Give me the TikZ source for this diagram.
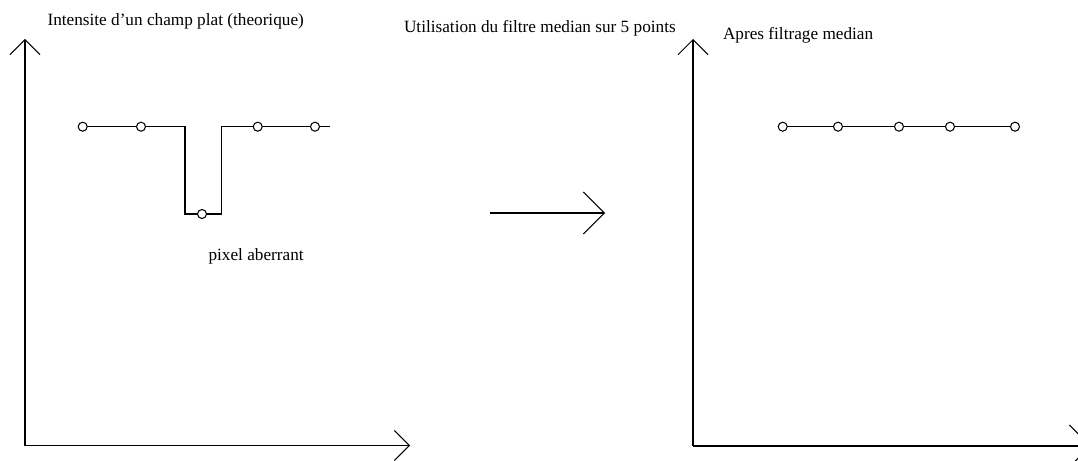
\documentclass[tikz,border=0pt]{standalone}
\usepackage{fontspec}
\setmainfont{Liberation Serif}
\usetikzlibrary{arrows.meta}

\begin{document}
\begin{tikzpicture}[line width=0.6pt,
        pt/.style={circle,draw,fill=white,inner sep=0pt,minimum size=0.18cm},
        axe/.style={-{Straight Barb[length=3mm,width=6mm]}},
        bigaxe/.style={-{Straight Barb[length=4.2mm,width=8.4mm]}},
        lbl/.style={anchor=base west,inner sep=0pt,font=\fontsize{9.8}{12}\selectfont}]
        \useasboundingbox (0,0) rectangle (21.56,9.2);

        % Left plot: flat field with one bad pixel.
        \coordinate (o1) at (0.5,0.29);
        \coordinate (y1) at (0.5,8.42);
        \coordinate (x1) at (8.2,0.29);
        \draw [axe] (o1) -- (y1);
        \draw [axe] (o1) -- (x1);
        \node [lbl] (t1) at (0.94,8.69) {Intensite d'un champ plat (theorique)};

        \coordinate (k1) at (3.7,6.666);
        \coordinate (k2) at (3.7,4.92);
        \coordinate (k3) at (4.434,4.92);
        \coordinate (k4) at (4.434,6.666);
        \coordinate (e1) at (6.6,6.666);
        \draw (1.654,6.666) -- (k1) -- (k2) -- (k3) -- (k4) -- (e1);
        \node [pt] (a1) at (1.654,6.666) {};
        \node [pt] (a2) at (2.82,6.666) {};
        \node [pt] (a3) at (4.04,4.92) {}; % Bad pixel.
        \node [pt] (a4) at (5.154,6.666) {};
        \node [pt] (a5) at (6.3,6.666) {};
        \node [lbl] (t2) at (4.16,3.99) {pixel aberrant};

        % Middle arrow.
        \coordinate (m1) at (9.8,4.94);
        \coordinate (m2) at (12.1,4.94);
        \draw [bigaxe] (m1) -- (m2);
        \node [lbl] (t3) at (8.07,8.554) {Utilisation du filtre median sur 5 points};

        % Right plot: after median filter.
        \coordinate (o2) at (13.86,0.28);
        \coordinate (y2) at (13.86,8.42);
        \coordinate (x2) at (21.82,0.28);
        \draw [axe] (o2) -- (y2);
        \draw [bigaxe] (o2) -- (x2);
        \node [lbl] (t4) at (14.45,8.4) {Apres filtrage median};

        \draw (15.654,6.666) -- (20.3,6.666);
        \node [pt] (b1) at (15.654,6.666) {};
        \node [pt] (b2) at (16.76,6.666) {};
        \node [pt] (b3) at (17.98,6.666) {};
        \node [pt] (b4) at (19.0,6.666) {};
        \node [pt] (b5) at (20.3,6.666) {};
\end{tikzpicture}
\end{document}
